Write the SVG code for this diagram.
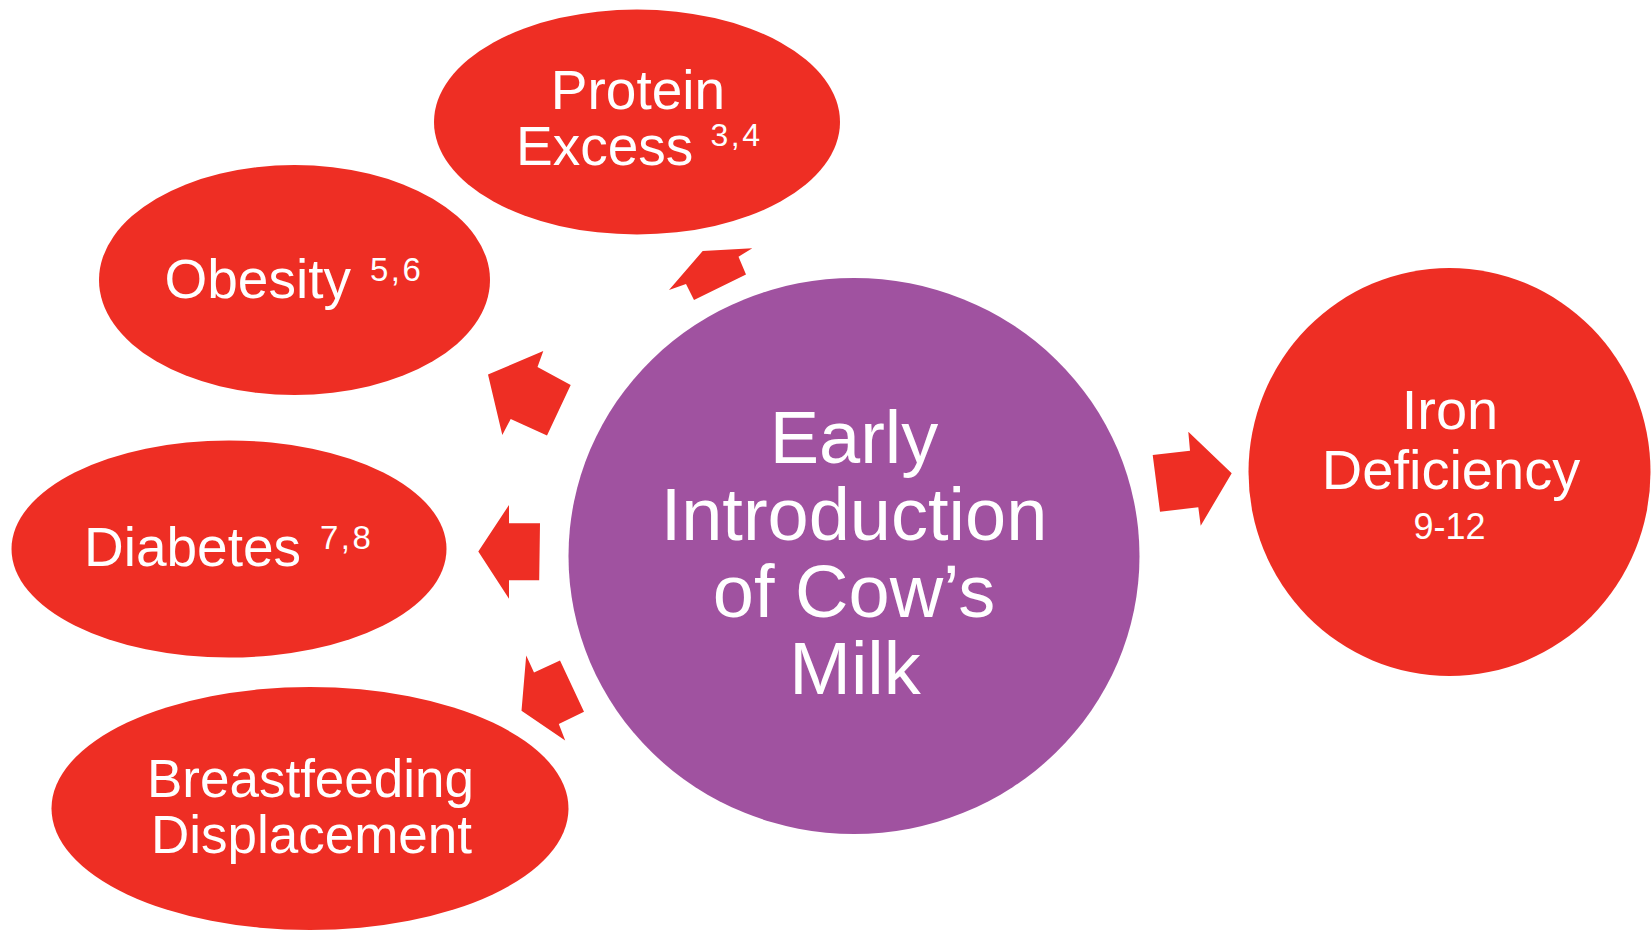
<svg xmlns="http://www.w3.org/2000/svg" width="1651" height="930" viewBox="0 0 1651 930">
  <style>
    .red { fill: #EE2E24; }
    .purple { fill: #A052A0; }
    .arrow { fill: #EE2E24; }
    text { font-family: "Liberation Sans", Arial, sans-serif; fill: #FFFFFF; }
    .lbl { font-size: 55px; }
    .mid { text-anchor: middle; }
    .sup { letter-spacing: 2.5px; }
  </style>
  <rect width="1651" height="930" fill="#FFFFFF"/>

  <!-- Central cause -->
  <g id="node-cows-milk">
    <ellipse class="purple" cx="854" cy="556" rx="285.5" ry="278"/>
    <text class="mid" x="854" y="463" font-size="74">Early</text>
    <text class="mid" x="854" y="540" font-size="74">Introduction</text>
    <text class="mid" x="854" y="617" font-size="74">of Cow’s</text>
    <text class="mid" x="855" y="694" font-size="74">Milk</text>
  </g>

  <!-- Consequences -->
  <g id="node-protein-excess">
    <ellipse class="red" cx="637" cy="122" rx="203" ry="112.5"/>
    <text class="lbl mid" x="638" y="109">Protein</text>
    <text class="lbl" x="516" y="165">Excess</text>
    <text class="sup" x="710.5" y="146" font-size="32">3,4</text>
  </g>

  <g id="node-obesity">
    <ellipse class="red" cx="294.5" cy="280" rx="195.5" ry="115"/>
    <text class="lbl" x="164.5" y="298">Obesity</text>
    <text class="sup" x="370" y="280.5" font-size="33">5,6</text>
  </g>

  <g id="node-diabetes">
    <ellipse class="red" cx="229" cy="549" rx="217.5" ry="108.5"/>
    <text class="lbl" x="84" y="566">Diabetes</text>
    <text class="sup" x="320" y="549" font-size="33">7,8</text>
  </g>

  <g id="node-breastfeeding">
    <ellipse class="red" cx="310" cy="808.5" rx="258.5" ry="121.5"/>
    <text class="mid" x="310.5" y="797" font-size="53">Breastfeeding</text>
    <text class="mid" x="311.5" y="852.5" font-size="53">Displacement</text>
  </g>

  <g id="node-iron-deficiency">
    <ellipse class="red" cx="1449.5" cy="472" rx="201" ry="204"/>
    <text class="mid" x="1450" y="428.5" font-size="56">Iron</text>
    <text class="mid" x="1451" y="488.5" font-size="56">Deficiency</text>
    <text class="mid" x="1449.5" y="538.5" font-size="36">9-12</text>
  </g>

  <!-- Block arrows from the central circle -->
  <g id="connectors">
    <polygon class="arrow" points="669,290 702.7,251 752.3,248.3 738.5,256.7 746,274.5 694,300 686,284"/>
    <polygon class="arrow" points="488,374.5 543.3,351 537.5,367 570.7,385 547,435.5 510.7,419 502.3,435"/>
    <polygon class="arrow" points="478.3,551.5 509,505 509,523.3 540,523.3 539.2,580.2 509,580.2 509,598.7"/>
    <polygon class="arrow" points="526.2,655.5 534,672.5 560,660.6 584,711.8 558.8,724 565.2,740.5 521.5,710.7"/>
    <polygon class="arrow" points="1152.7,455 1190,450.7 1188.3,431.7 1231.7,473.3 1200.7,525.7 1198.3,507.3 1160,511.7"/>
  </g>
</svg>
